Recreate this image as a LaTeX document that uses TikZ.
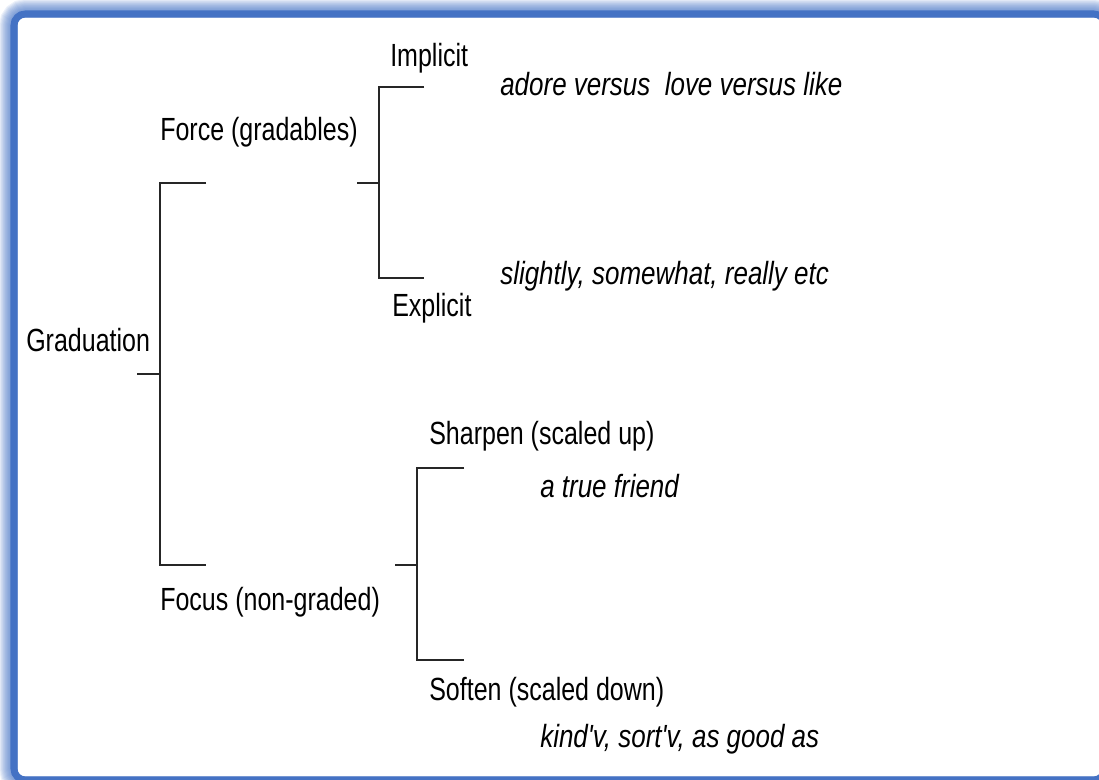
\documentclass[tikz,border=0pt]{standalone}
\usepackage{fontspec}
\newfontfamily\diagfont[FakeStretch=0.78]{Liberation Sans}
\newfontfamily\examplefont[FakeStretch=0.81]{Liberation Sans}
\definecolor{frameblue}{RGB}{68,114,196}

\begin{document}
\begin{tikzpicture}[x=0.025cm,y=-0.025cm,
    term/.style={anchor=base west,inner sep=0pt,font=\diagfont\fontsize{22.8pt}{27pt}\selectfont},
    instance/.style={term,font=\examplefont\itshape\fontsize{22.8pt}{27pt}\selectfont},
    bracket/.style={draw=black!85,line width=1.7pt}]
    \useasboundingbox (0,0) rectangle (1099,780);

    \begin{scope}
        \clip (0,0) rectangle (1099,780);
        \foreach \i in {1,...,10}
            \draw[frameblue,opacity=0.1,line width={(5+1.6*\i)*1pt},rounded corners=8pt] (14,14) rectangle (1105,780);
        \fill[white,rounded corners=5pt] (17.5,17.5) rectangle (1105,776.5);
        \draw[frameblue,line width=5pt,rounded corners=8pt] (14,14) rectangle (1105,780);
    \end{scope}

    \node[term]     (implicit)    at (390,67)  {Implicit};
    \node[term]     (force)       at (160,141) {Force (gradables)};
    \node[instance] (ex-implicit) at (500,96)  {adore versus\ \ love versus like};
    \node[instance] (ex-explicit) at (500,285) {slightly, somewhat, really etc};
    \node[term]     (explicit)    at (392,317) {Explicit};
    \node[term]     (graduation)  at (26,352)  {Graduation};
    \node[term]     (sharpen)     at (429,445) {Sharpen (scaled up)};
    \node[instance] (ex-sharpen)  at (540,497) {a true friend};
    \node[term]     (focus)       at (160,610) {Focus (non-graded)};
    \node[term]     (soften)      at (429,700) {Soften (scaled down)};
    \node[instance] (ex-soften)   at (540,747) {kind'v, sort'v, as good as};

    \coordinate (g-stub)       at (137,374);
    \coordinate (force-arm)    at (206,183);
    \coordinate (focus-arm)    at (206,565);
    \coordinate (f-stub)       at (357,183);
    \coordinate (implicit-arm) at (424,87);
    \coordinate (explicit-arm) at (424,278);
    \coordinate (s-stub)       at (395,565);
    \coordinate (sharpen-arm)  at (464,468);
    \coordinate (soften-arm)   at (464,660);

    \path[bracket]
        (force-arm) -- +(-46,0) |- (focus-arm)
        (g-stub) -- +(23,0)
        (implicit-arm) -- +(-45,0) |- (explicit-arm)
        (f-stub) -- +(22,0)
        (sharpen-arm) -- +(-47,0) |- (soften-arm)
        (s-stub) -- +(22,0);
\end{tikzpicture}
\end{document}
